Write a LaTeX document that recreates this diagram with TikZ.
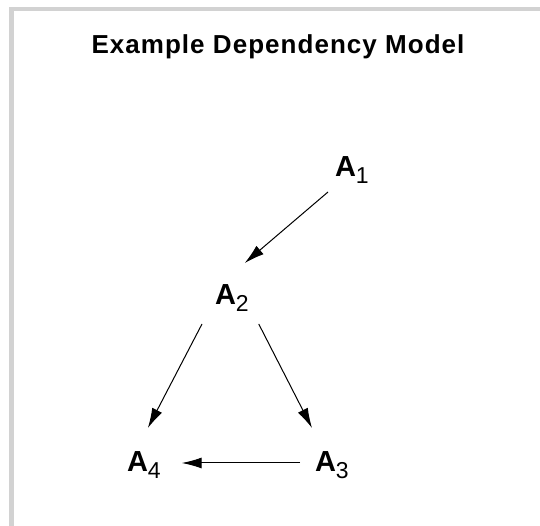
\documentclass[tikz,border=0pt]{standalone}
\usepackage{fontspec}
\setmainfont{Liberation Sans}
\usetikzlibrary{arrows.meta}
\newfontfamily\titlefnt[LetterSpace=4]{Liberation Sans}
\newcommand{\bigA}{{\fontsize{29}{29}\selectfont\bfseries A}}
\newcommand{\subd}[1]{\raisebox{-7pt}{\fontsize{23}{23}\selectfont #1}}
\tikzset{
  frameline/.style={draw=gray!35, line width=4.5pt},
  anode/.style={inner sep=0pt, outer sep=0pt, anchor=base west},
  arr/.style={draw=black, line width=1pt, -{Latex[length=20pt,width=11pt]}},
  titlenode/.style={anchor=base, inner sep=0pt, font=\titlefnt\fontsize{26}{26}\selectfont\bfseries}
}
\begin{document}
\begin{tikzpicture}[x=1pt,y=1pt]
  \useasboundingbox (0,0) rectangle (540,526);
  \fill[white] (0,0) rectangle (540,526);
  \draw[frameline] (11.5,0) -- (11.5,517) -- (540,517);
  \node[titlenode] (title) at (278,472) {Example Dependency Model};
  \node[anode] (a1) at (335,349) {\bigA\subd{1}};
  \node[anode] (a2) at (215,221) {\bigA\subd{2}};
  \node[anode] (a4) at (127,54) {\bigA\subd{4}};
  \node[anode] (a3) at (315,54) {\bigA\subd{3}};
  \draw[arr] ([xshift=-7pt,yshift=-8pt]a1.south west) -- ([xshift=-4pt,yshift=22pt]a2.north east);
  \draw[arr] ([xshift=-13pt,yshift=-12pt]a2.south west) -- ([xshift=4pt,yshift=24pt]a4.north);
  \draw[arr] ([xshift=10pt,yshift=-12pt]a2.south east) -- ([xshift=-3pt,yshift=24pt]a3.north west);
  \draw[arr] ([xshift=-15pt,yshift=9pt]a3.base west) -- ([xshift=21pt,yshift=9pt]a4.base east);
\end{tikzpicture}
\end{document}
